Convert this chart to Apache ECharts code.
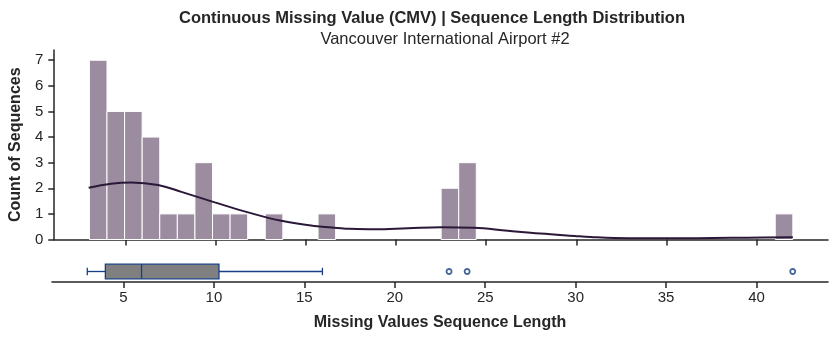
<!DOCTYPE html>
<html>
<head>
<meta charset="utf-8">
<script src="https://cdn.jsdelivr.net/npm/echarts@6/dist/echarts.min.js"></script>
<style>html,body{margin:0;padding:0;background:#fff}#c{width:837px;height:340px}</style>
</head>
<body>
<div id="c"></div>
<script>
// ---- data ----
const titleText = 'Continuous Missing Value (CMV) | Sequence Length Distribution';
const subtitleText = 'Vancouver International Airport #2';
const xAxisTitle = 'Missing Values Sequence Length';
const yAxisTitle = 'Count of Sequences';
const binStart = 3;
const binWidth = 0.975;
const binCounts = [7,5,5,4,1,1,3,1,1,0, 1,0,0,1,0,0,0,0,0,0, 2,3,0,0,0,0,0,0,0,0, 0,0,0,0,0,0,0,0,0,1];
const kdeX = [2.96,4.2,5.33,6.8,8.1,9.95,11.8,13.64,15.48,16.96,17.33,18.8,20.66,22.5,24.3,26.2,28.0,29.9,30.8,32.1,33.9,35.8,37.6,39.5,42.0];
const kdeY = [2.02,2.18,2.23,2.13,1.86,1.45,1.06,0.73,0.53,0.44,0.42,0.40,0.44,0.48,0.46,0.34,0.23,0.14,0.10,0.06,0.05,0.05,0.06,0.07,0.09];
const boxStats = [3, 4, 6, 10.28, 16]; // min, q1, median, q3, max (whiskers)
const outliers = [23, 24, 42];
const xTicks = [5,10,15,20,25,30,35,40];
const yTicks = [0,1,2,3,4,5,6,7];

const histData = binCounts.map((c, i) => [binStart + i * binWidth, binStart + (i + 1) * binWidth, c]).filter(d => d[2] > 0);
const kdeData = kdeX.map((x, i) => [x, kdeY[i]]);

const ink = '#262626';
const boxBlue = '#173f85';
const font = 'Liberation Sans, Arial, sans-serif';
const axisCommon = {
  axisLine: {show: true, onZero: false, lineStyle: {color: ink, width: 1.5}},
  axisTick: {show: true, inside: false, length: 6, lineStyle: {color: ink, width: 1.5}},
  splitLine: {show: false}
};

const chart = echarts.init(document.getElementById('c'), null, {renderer: 'canvas'});
chart.setOption({
  animation: false,
  textStyle: {fontFamily: font},
  title: [
    {text: titleText, left: 427, top: 5, textAlign: 'center',
     textStyle: {fontSize: 16.5, fontWeight: 'bold', color: ink, fontFamily: font}},
    {text: subtitleText, left: 440, top: 26, textAlign: 'center',
     textStyle: {fontSize: 16.5, fontWeight: 'normal', color: ink, fontFamily: font}}
  ],
  grid: [
    {left: 52, right: 9, top: 50, height: 189.5},
    {left: 52, right: 9, top: 261, height: 21}
  ],
  xAxis: [
    Object.assign({}, axisCommon, {
      type: 'value', gridIndex: 0, min: 1.05, max: 43.95,
      axisTick: Object.assign({}, axisCommon.axisTick, {customValues: xTicks}),
      axisLabel: {show: false}
    }),
    Object.assign({}, axisCommon, {
      type: 'value', gridIndex: 1, min: 1.05, max: 43.95,
      axisTick: Object.assign({}, axisCommon.axisTick, {customValues: xTicks}),
      axisLabel: {customValues: xTicks, fontSize: 15, color: ink, margin: 8},
      name: xAxisTitle, nameLocation: 'middle', nameGap: 33,
      nameTextStyle: {fontSize: 16, fontWeight: 'bold', color: ink}
    })
  ],
  yAxis: [
    Object.assign({}, axisCommon, {
      type: 'value', gridIndex: 0, min: 0, max: 7.4,
      axisTick: Object.assign({}, axisCommon.axisTick, {customValues: yTicks}),
      axisLabel: {customValues: yTicks, fontSize: 15, color: ink, margin: 11},
      name: yAxisTitle, nameLocation: 'middle', nameGap: 26,
      nameTextStyle: {fontSize: 16, fontWeight: 'bold', color: ink}
    }),
    {type: 'value', gridIndex: 1, min: -1, max: 1, show: false}
  ],
  series: [
    {
      type: 'custom', xAxisIndex: 0, yAxisIndex: 0, data: histData,
      renderItem: function (params, api) {
        const p0 = api.coord([api.value(0), api.value(2)]);
        const p1 = api.coord([api.value(1), 0]);
        return {type: 'rect', shape: {x: p0[0], y: p0[1], width: p1[0] - p0[0], height: p1[1] - p0[1]},
                style: {fill: '#9b8d9f', stroke: '#ffffff', lineWidth: 1}};
      }
    },
    {
      type: 'line', xAxisIndex: 0, yAxisIndex: 0, data: kdeData, smooth: 0.4, symbol: 'none',
      lineStyle: {color: '#2b1838', width: 2}, z: 5
    },
    {
      type: 'custom', xAxisIndex: 1, yAxisIndex: 1, data: [boxStats],
      renderItem: function (params, api) {
        const vmin = api.value(0), q1 = api.value(1), med = api.value(2), q3 = api.value(3), vmax = api.value(4);
        const top = api.coord([q1, 0.7])[1], bot = api.coord([q1, -0.7])[1];
        const ctop = api.coord([q1, 0.35])[1], cbot = api.coord([q1, -0.35])[1];
        const y0 = api.coord([q1, 0])[1];
        const xMin = api.coord([vmin, 0])[0], xQ1 = api.coord([q1, 0])[0], xMed = api.coord([med, 0])[0];
        const xQ3 = api.coord([q3, 0])[0], xMax = api.coord([vmax, 0])[0];
        const ls = {stroke: boxBlue, lineWidth: 1.3, fill: null};
        return {type: 'group', children: [
          {type: 'line', shape: {x1: xMin, y1: y0, x2: xQ1, y2: y0}, style: ls},
          {type: 'line', shape: {x1: xQ3, y1: y0, x2: xMax, y2: y0}, style: ls},
          {type: 'line', shape: {x1: xMin, y1: ctop, x2: xMin, y2: cbot}, style: ls},
          {type: 'line', shape: {x1: xMax, y1: ctop, x2: xMax, y2: cbot}, style: ls},
          {type: 'rect', shape: {x: xQ1, y: top, width: xQ3 - xQ1, height: bot - top},
           style: {fill: '#808080', stroke: boxBlue, lineWidth: 1.3}},
          {type: 'line', shape: {x1: xMed, y1: top, x2: xMed, y2: bot}, style: ls}
        ]};
      }
    },
    {
      type: 'scatter', xAxisIndex: 1, yAxisIndex: 1, data: outliers.map(v => [v, 0]),
      symbol: 'circle', symbolSize: 5,
      itemStyle: {color: '#ffffff', borderColor: boxBlue, borderWidth: 1.8}
    }
  ]
});
</script>
</body>
</html>
